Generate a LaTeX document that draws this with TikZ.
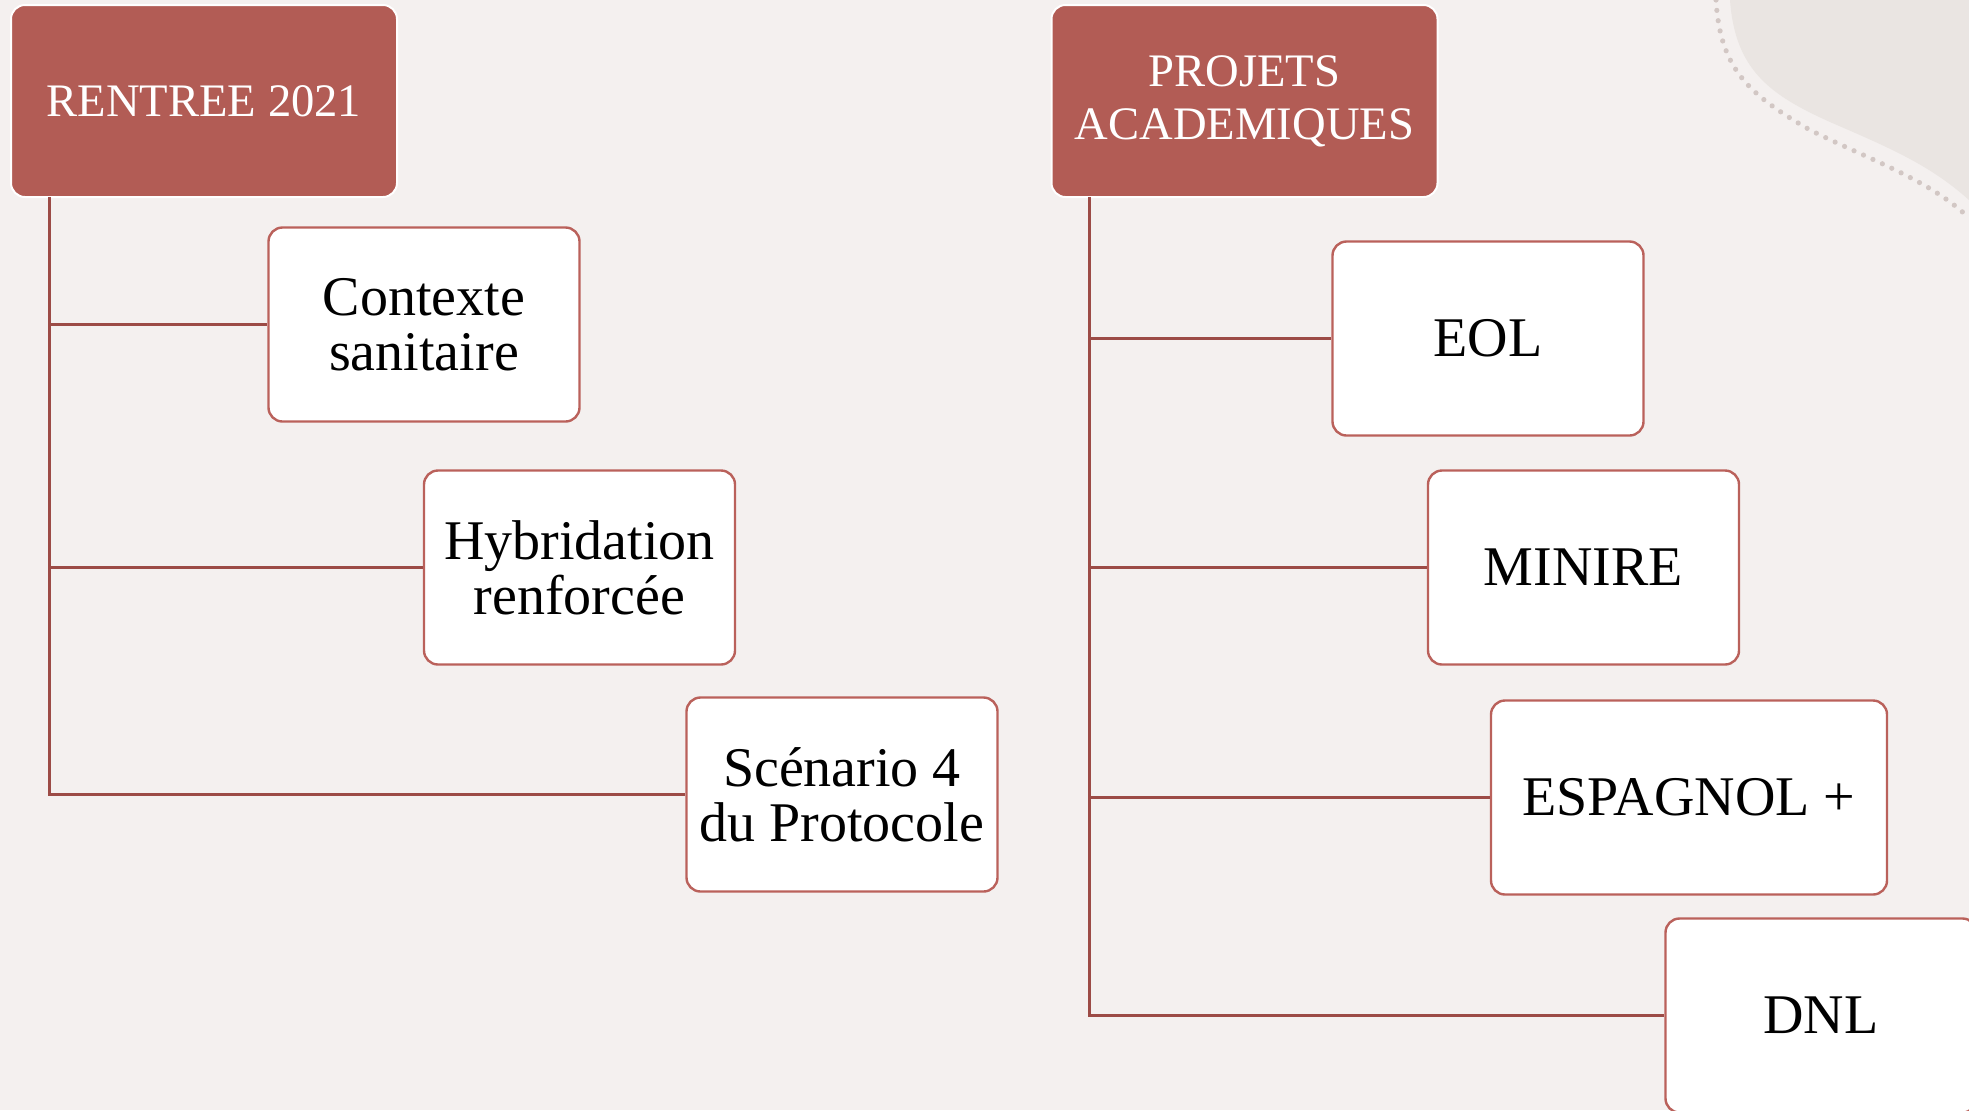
\documentclass[tikz,border=0pt]{standalone}
\usepackage{fontspec}
\setmainfont{Liberation Serif}
\usepackage{tikz}

\definecolor{bgpage}{HTML}{F4F0EF}
\definecolor{bgcorner}{HTML}{EAE5E2}
\definecolor{dotgrey}{HTML}{D2C7C4}
\definecolor{headred}{HTML}{B25C55}
\definecolor{boxedge}{HTML}{BA615B}
\definecolor{spinered}{HTML}{9C4B46}

\begin{document}
\begin{tikzpicture}[x=0.5pt,y=0.5pt,yscale=-1,xscale=1,
  headbox/.style={draw=white,line width=1pt,fill=headred,rounded corners=7pt,
    text=white,align=center,minimum width=193pt,minimum height=96pt,
    font=\fontsize{23.3}{26.5}\selectfont},
  itembox/.style={draw=boxedge,line width=1.2pt,fill=white,rounded corners=7pt,
    text=black,align=center,minimum width=155.5pt,minimum height=97pt,
    font=\fontsize{28}{27.5}\selectfont},
  branch/.style={draw=spinered,line width=1.5pt}]
%set diagram area to the full page
\useasboundingbox (0,0) rectangle (1969,1110);
\fill [bgpage] (0,0) rectangle (1969,1110);

%Shape: corner blob
\fill [bgcorner] (1730,0) .. controls (1735,70) and (1770,95) .. (1830,122) .. controls (1890,148) and (1930,165) .. (1969,200) -- (1969,0) -- cycle ;
%Dotted curve
\draw [dotgrey,line width=2.6pt,line cap=round,dash pattern=on 0pt off 5.2pt] (1716,0) .. controls (1720,70) and (1750,95) .. (1810,130) .. controls (1870,160) and (1930,180) .. (1969,218) ;

% Headers
\node [headbox] (rentree) at (204,101) {RENTREE 2021};
\node [headbox] (projets) at (1244.5,101) {PROJETS\\ACADEMIQUES};

% Left items
\node [itembox] (contexte) at (424,324.5) {Contexte\\sanitaire};
\node [itembox] (hybrid) at (579.5,567.5) {Hybridation\\renforcée};
\node [itembox] (scenario) at (842,794.5) {Scénario 4\\du Protocole};

% Right items
\node [itembox] (eol) at (1488,338.5) {EOL};
\node [itembox] (minire) at (1583.5,567.5) {MINIRE};
\node [itembox,minimum width=198pt] (espagnol) at (1689,797.5) {ESPAGNOL +};
\node [itembox] (dnl) at (1821,1015.5) {DNL};

% Spines
\coordinate (lspine) at (49,197);
\coordinate (rspine) at (1089,197);

% Connection
\draw [branch] (lspine) |- (scenario.west) ;
\draw [branch] (lspine |- contexte.west) -- (contexte.west) ;
\draw [branch] (lspine |- hybrid.west) -- (hybrid.west) ;
% Connection
\draw [branch] (rspine) |- (dnl.west) ;
\draw [branch] (rspine |- eol.west) -- (eol.west) ;
\draw [branch] (rspine |- minire.west) -- (minire.west) ;
\draw [branch] (rspine |- espagnol.west) -- (espagnol.west) ;

\end{tikzpicture}
\end{document}
